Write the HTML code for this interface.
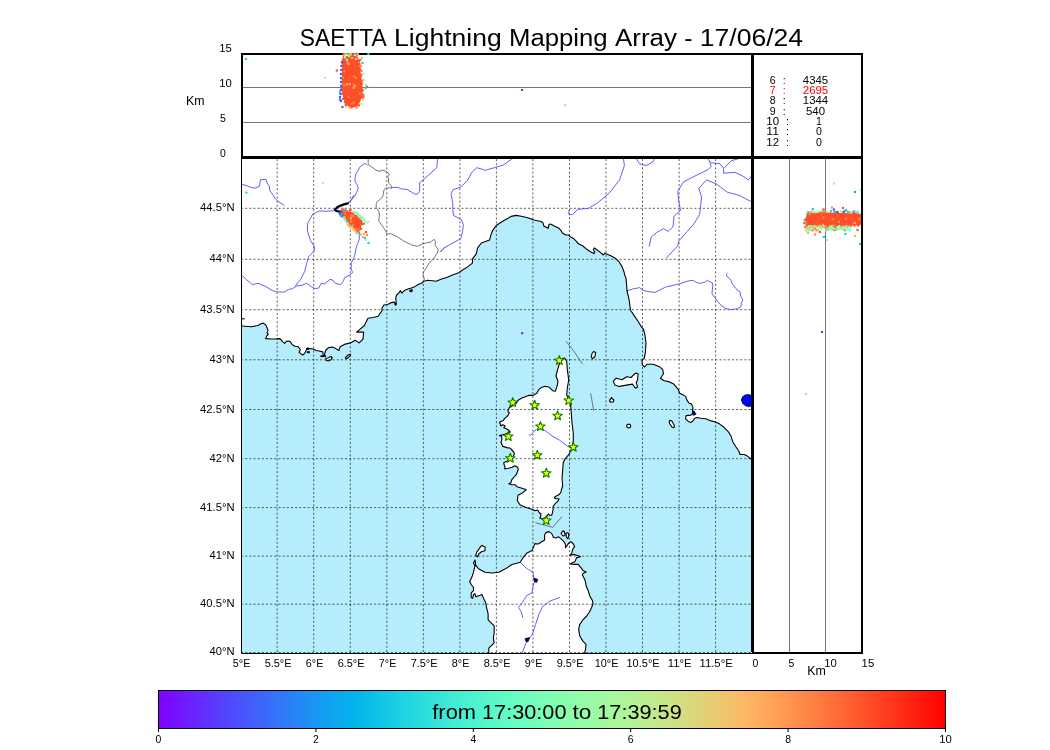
<!DOCTYPE html><html><head><meta charset="utf-8"><style>html,body{margin:0;padding:0;background:#fff;font-family:"Liberation Sans",sans-serif;}svg{display:block;will-change:transform}</style></head><body><svg width="1050" height="750" viewBox="0 0 1050 750" font-family="'Liberation Sans', sans-serif">
<rect width="1050" height="750" fill="#fff"/>
<defs><clipPath id="mc"><rect x="241" y="157" width="511" height="496"/></clipPath>
<linearGradient id="cb" x1="0" x2="1" y1="0" y2="0"><stop offset="0.000" stop-color="rgb(128,0,255)"/><stop offset="0.025" stop-color="rgb(115,20,255)"/><stop offset="0.050" stop-color="rgb(102,40,254)"/><stop offset="0.075" stop-color="rgb(89,60,253)"/><stop offset="0.100" stop-color="rgb(76,79,252)"/><stop offset="0.125" stop-color="rgb(64,98,250)"/><stop offset="0.150" stop-color="rgb(51,116,248)"/><stop offset="0.175" stop-color="rgb(38,133,245)"/><stop offset="0.200" stop-color="rgb(25,150,243)"/><stop offset="0.225" stop-color="rgb(13,166,239)"/><stop offset="0.250" stop-color="rgb(0,180,236)"/><stop offset="0.275" stop-color="rgb(13,194,232)"/><stop offset="0.300" stop-color="rgb(25,206,227)"/><stop offset="0.325" stop-color="rgb(38,217,222)"/><stop offset="0.350" stop-color="rgb(51,227,217)"/><stop offset="0.375" stop-color="rgb(64,236,212)"/><stop offset="0.400" stop-color="rgb(77,243,206)"/><stop offset="0.425" stop-color="rgb(89,248,200)"/><stop offset="0.450" stop-color="rgb(102,252,194)"/><stop offset="0.475" stop-color="rgb(115,254,187)"/><stop offset="0.500" stop-color="rgb(128,255,180)"/><stop offset="0.525" stop-color="rgb(140,254,173)"/><stop offset="0.550" stop-color="rgb(153,252,166)"/><stop offset="0.575" stop-color="rgb(166,248,158)"/><stop offset="0.600" stop-color="rgb(178,243,150)"/><stop offset="0.625" stop-color="rgb(191,236,142)"/><stop offset="0.650" stop-color="rgb(204,227,133)"/><stop offset="0.675" stop-color="rgb(217,217,125)"/><stop offset="0.700" stop-color="rgb(229,206,116)"/><stop offset="0.725" stop-color="rgb(242,194,107)"/><stop offset="0.750" stop-color="rgb(255,180,98)"/><stop offset="0.775" stop-color="rgb(255,166,88)"/><stop offset="0.800" stop-color="rgb(255,150,79)"/><stop offset="0.825" stop-color="rgb(255,133,69)"/><stop offset="0.850" stop-color="rgb(255,116,60)"/><stop offset="0.875" stop-color="rgb(255,98,50)"/><stop offset="0.900" stop-color="rgb(255,79,40)"/><stop offset="0.925" stop-color="rgb(255,60,30)"/><stop offset="0.950" stop-color="rgb(255,40,20)"/><stop offset="0.975" stop-color="rgb(255,20,10)"/><stop offset="1.000" stop-color="rgb(255,0,0)"/></linearGradient>
</defs>
<g clip-path="url(#mc)">
<rect x="241" y="157" width="511" height="496" fill="#b5edfc"/>
<path d="M241.0,322.0 L242.0,326.0 L251.3,326.7 L258.0,325.5 L260.9,323.8 L263.2,323.1 L265.6,324.8 L267.0,327.6 L268.0,330.5 L267.0,332.9 L268.3,334.3 L266.6,336.2 L265.6,338.6 L271.3,339.0 L277.0,338.9 L279.9,338.6 L282.8,341.9 L284.7,343.3 L286.6,341.0 L289.9,341.4 L292.3,344.8 L295.1,346.2 L298.0,346.7 L300.4,349.5 L299.0,352.4 L302.8,355.0 L304.7,353.3 L306.6,349.5 L308.5,348.6 L313.2,349.0 L316.1,350.5 L319.0,351.0 L322.8,351.9 L323.2,355.6 L324.2,355.6 L325.6,350.5 L328.5,347.6 L332.3,347.1 L335.1,348.3 L338.9,350.5 L340.1,346.7 L345.2,344.1 L350.3,342.9 L355.3,340.3 L359.2,342.9 L363.0,339.1 L363.6,332.1 L356.6,332.1 L360.4,328.9 L364.2,325.8 L368.0,318.2 L373.1,317.5 L378.2,316.3 L382.0,310.6 L381.9,308.3 L383.8,305.0 L387.6,304.5 L391.4,302.6 L394.3,302.1 L395.2,304.5 L396.2,303.1 L395.7,297.9 L396.7,295.0 L398.6,293.1 L400.5,290.7 L401.9,293.1 L404.8,290.2 L408.6,288.8 L411.4,287.9 L415.2,286.4 L418.1,284.5 L421.9,283.1 L423.8,281.2 L427.6,280.2 L432.4,280.7 L436.2,281.2 L441.0,279.3 L446.7,277.4 L452.4,275.0 L458.1,273.1 L462.9,269.8 L467.6,266.9 L472.4,263.1 L472.5,258.9 L476.3,253.8 L477.5,248.1 L481.3,243.0 L489.6,239.9 L490.8,235.4 L492.7,230.3 L496.5,225.3 L503.5,220.8 L511.1,216.4 L516.2,215.4 L521.3,216.2 L527.6,217.7 L533.9,220.0 L540.0,221.2 L542.9,222.6 L543.8,226.0 L548.1,228.3 L549.0,224.5 L550.5,224.0 L554.3,226.0 L559.0,228.3 L561.4,231.2 L562.4,233.1 L565.7,235.0 L568.6,235.0 L570.5,236.9 L573.3,238.3 L576.7,241.7 L578.1,243.6 L580.0,244.5 L582.9,246.0 L586.7,249.3 L590.5,251.7 L593.8,253.6 L594.8,252.1 L593.3,249.8 L594.3,247.9 L596.2,249.3 L600.0,252.1 L603.3,255.0 L604.8,253.1 L606.7,254.0 L611.4,256.0 L615.2,258.3 L619.0,261.7 L621.9,266.4 L623.8,271.2 L624.8,275.0 L626.0,278.4 L626.6,284.7 L627.0,291.0 L628.4,296.4 L629.4,301.7 L630.5,310.3 L634.2,315.6 L638.5,322.0 L641.7,327.3 L643.3,328.9 L644.9,334.8 L646.0,343.3 L645.4,351.8 L644.3,358.2 L641.9,360.4 L642.4,364.8 L644.6,367.0 L647.2,364.2 L653.1,364.2 L659.0,366.4 L662.7,369.4 L663.5,373.8 L660.5,378.2 L663.5,380.5 L669.4,381.9 L673.8,384.1 L678.2,389.3 L679.7,393.2 L682.9,394.8 L685.6,396.4 L687.2,400.7 L689.3,403.3 L691.4,403.9 L693.0,407.6 L692.5,410.8 L693.6,412.4 L690.9,415.1 L686.1,415.6 L685.6,418.8 L688.3,421.4 L690.9,422.5 L693.0,420.9 L694.6,418.3 L697.3,417.5 L700.5,418.3 L705.8,418.8 L711.2,420.9 L715.4,422.0 L719.7,424.1 L724.0,427.3 L728.2,431.6 L730.9,435.8 L733.0,442.2 L735.7,446.5 L738.9,451.3 L740.0,454.5 L744.2,454.5 L747.4,456.1 L752.0,459.8 L753.0,459.8 L753.0,156.0 L240.0,156.0 L240.0,322.0 Z" fill="#fff"/>
<path d="M564.7,358.0 L566.7,361.3 L567.3,369.3 L568.7,380.0 L567.3,388.0 L566.7,394.7 L568.7,398.7 L570.7,405.3 L571.3,413.3 L572.0,422.7 L573.3,433.3 L573.3,440.7 L572.0,448.7 L568.7,454.7 L564.7,459.3 L563.1,463.3 L562.7,470.0 L562.0,478.0 L562.7,486.0 L561.3,490.0 L561.0,492.0 L559.7,494.0 L557.7,495.3 L555.0,496.7 L554.3,498.0 L556.3,498.7 L559.0,498.7 L558.3,500.7 L556.3,502.7 L554.3,504.7 L553.0,506.7 L553.0,510.0 L552.3,513.3 L551.7,515.3 L549.7,515.3 L548.3,514.0 L546.0,517.5 L542.3,518.7 L539.7,518.0 L540.7,516.7 L541.0,514.0 L539.3,512.7 L537.7,510.0 L535.0,510.7 L531.7,509.3 L527.7,508.0 L523.5,506.5 L520.0,504.7 L517.3,500.7 L518.0,495.3 L522.0,493.3 L526.3,489.7 L523.7,488.7 L520.3,487.7 L517.0,486.7 L515.0,484.7 L511.7,484.7 L508.7,483.7 L511.0,482.7 L511.3,481.3 L512.0,479.3 L513.3,478.0 L515.0,476.0 L516.3,474.7 L517.3,472.0 L518.3,469.3 L517.7,467.3 L514.7,465.7 L512.3,467.3 L508.3,468.3 L504.7,469.0 L505.0,466.7 L504.3,465.3 L503.7,462.7 L507.0,461.3 L510.0,459.0 L513.0,456.7 L514.3,454.3 L514.0,452.3 L511.8,450.0 L510.6,448.2 L507.0,447.6 L502.8,446.4 L501.9,444.6 L501.0,442.2 L501.9,439.8 L501.6,436.2 L499.5,435.6 L505.0,434.2 L510.3,432.0 L508.8,430.2 L506.4,428.7 L503.7,427.8 L505.2,426.0 L502.8,424.8 L500.7,426.0 L500.4,424.2 L499.5,422.4 L501.0,421.5 L503.4,420.6 L504.3,418.8 L505.8,417.6 L507.9,415.5 L509.4,412.8 L507.9,411.6 L508.5,409.2 L509.4,407.4 L512.4,405.9 L516.2,403.4 L518.2,400.2 L521.4,398.2 L524.6,397.0 L528.6,395.4 L533.4,395.4 L537.0,393.0 L538.6,389.8 L541.4,387.4 L545.0,386.2 L549.3,387.3 L552.7,390.7 L555.3,391.3 L557.3,385.3 L558.0,381.3 L556.0,376.0 L557.3,370.7 L559.3,364.0 L562.0,358.7 Z" fill="#fff"/>
<path d="M488.8,653.5 L488.8,650.4 L488.8,648.1 L491.1,645.8 L494.2,642.8 L493.4,638.2 L494.2,632.0 L494.2,625.9 L491.1,622.8 L488.1,619.8 L488.1,613.6 L486.5,607.5 L485.8,602.9 L483.5,598.3 L481.9,594.4 L480.4,595.2 L475.8,596.7 L475.0,593.7 L473.5,594.4 L472.7,598.3 L471.2,597.5 L471.2,592.9 L473.5,590.6 L473.5,587.5 L471.2,584.5 L469.7,581.4 L472.0,576.8 L473.5,572.2 L475.0,566.0 L473.5,563.0 L475.0,560.0 L475.8,565.3 L478.9,569.1 L485.0,572.2 L492.7,573.0 L498.8,572.2 L504.9,569.1 L512.0,564.5 L520.3,562.3 L523.0,557.8 L526.6,553.3 L532.0,550.6 L535.0,543.6 L538.2,544.0 L541.4,542.0 L544.6,540.0 L544.6,534.8 L546.2,532.4 L549.0,531.6 L551.8,533.6 L553.4,537.2 L555.8,538.0 L558.6,536.8 L561.4,539.2 L563.8,541.6 L565.4,544.0 L565.4,547.6 L567.0,545.6 L568.6,543.2 L571.0,541.6 L573.4,544.0 L574.6,546.4 L572.6,549.6 L571.8,552.8 L570.2,555.2 L574.2,554.4 L576.6,555.2 L580.6,556.8 L576.6,557.6 L575.0,561.6 L570.2,564.0 L575.0,564.4 L578.2,564.4 L579.8,566.4 L583.0,570.4 L586.2,572.0 L583.0,573.6 L582.4,575.0 L585.1,580.3 L586.1,585.7 L588.3,591.0 L589.9,596.3 L592.5,600.6 L593.0,603.8 L591.4,608.0 L589.3,612.3 L586.7,616.0 L582.9,619.8 L579.7,624.6 L578.7,629.4 L579.7,635.8 L582.9,641.1 L586.1,644.3 L585.6,648.6 L584.5,653.5 L585.0,654.0 L488.0,654.0 Z" fill="#fff"/>
<path d="M481.9,545.4 L485.0,546.9 L485.0,550.7 L481.9,551.5 L478.9,553.8 L477.3,556.9 L475.8,555.3 L476.6,552.3 L478.9,549.2 L480.4,546.9 Z" fill="#fff"/>
<path d="M613.3,381.2 L616.2,378.2 L622.1,379.7 L626.6,376.8 L631.0,377.5 L635.4,373.1 L638.1,373.8 L637.6,379.7 L636.2,382.7 L637.6,387.1 L635.4,388.3 L632.5,384.1 L628.0,384.9 L623.6,385.6 L619.2,386.4 L614.8,384.9 Z" fill="#fff"/>
<path d="M593.5,351.5 L595.6,352.5 L595.0,356.5 L592.5,358.8 L591.2,357.0 L592.0,353.5 Z" fill="#fff"/>
<path d="M610.0,399.5 L611.5,398.0 L611.6,397.3 L612.0,398.5 L613.8,399.8 L613.5,401.8 L611.0,402.3 L609.5,401.3 Z" fill="#fff"/>
<path d="M628.7,424.0 L630.6,425.0 L630.6,427.2 L628.7,428.0 L626.8,427.0 L626.8,425.0 Z" fill="#fff"/>
<path d="M670.0,420.3 L671.8,421.0 L674.4,425.5 L674.0,427.6 L672.3,427.3 L669.5,423.5 L669.3,421.2 Z" fill="#fff"/>
<path d="M325.8,358.5 L328.5,357.8 L331.0,356.5 L332.3,357.6 L331.0,359.8 L328.0,361.0 L326.0,360.2 Z" fill="#fff"/>
<path d="M345.5,357.6 L348.0,355.0 L350.6,354.2 L350.3,355.6 L347.8,358.0 L345.8,358.6 Z" fill="#fff"/>
<path d="M561.0,533.5 L563.0,530.8 L564.5,532.0 L565.0,535.5 L563.0,536.0 Z" fill="#fff"/>
<path d="M566.0,533.0 L568.2,532.8 L568.8,535.5 L567.8,538.8 L566.3,537.0 Z" fill="#fff"/>
<path d="M240.7,652 V157 M277.2,652 V157 M313.7,652 V157 M350.3,652 V157 M386.8,652 V157 M423.3,652 V157 M459.9,652 V157 M496.4,652 V157 M532.9,652 V157 M569.5,652 V157 M606.0,652 V157 M642.5,652 V157 M679.1,652 V157 M715.6,652 V157 M752.1,652 V157 M241,652.5 H752 M241,604.2 H752 M241,556.1 H752 M241,507.6 H752 M241,458.7 H752 M241,409.5 H752 M241,359.8 H752 M241,309.7 H752 M241,259.3 H752 M241,208.3 H752 M241,157.0 H752" stroke="#000" stroke-opacity="0.62" stroke-width="1" stroke-dasharray="2.08,2.08" fill="none"/>
<g fill="none" stroke="#4d4dff" stroke-width="0.9" stroke-linejoin="round">
<path d="M241.7,184.4 L246.0,185.4 L250.8,187.4 L254.8,188.2 L259.6,186.2 L260.4,179.8 L266.0,179.4 L266.8,182.6 L269.2,185.8 L269.6,190.2 L272.4,194.2 L275.6,199.0 L278.0,201.4 L284.4,205.4"/>
<path d="M367.0,165.4 L365.4,163.4 L363.0,164.6 L360.2,166.6 L358.2,170.2 L355.8,174.2 L355.0,178.0 L355.0,181.4 L357.4,185.4 L358.2,188.6 L356.6,192.6 L354.4,196.6 L351.0,200.5 L348.4,202.7"/>
<path d="M333.5,210.8 L325.0,211.3 L319.8,210.8 L312.8,214.0 L307.6,223.5 L307.3,230.0 L308.7,235.3 L310.7,240.7 L314.7,247.3 L314.0,251.3 L308.7,256.7 L306.7,263.3 L304.7,271.3 L300.7,279.3 L295.3,286.0"/>
<path d="M353.7,195.0 L350.3,201.7 L348.0,203.0"/>
<path d="M344.0,214.8 L352.0,224.0 L357.5,230.5 L359.3,234.5 L359.3,239.3 L356.4,246.9 L354.5,256.4 L351.2,263.1 L351.2,268.8 L352.6,272.6 L350.7,274.5 L346.9,276.4 L344.7,277.5 L343.3,281.3 L340.7,284.7 L335.3,283.3 L332.7,280.0 L330.0,279.3 L324.7,284.0 L321.3,283.3 L318.7,288.0 L315.3,288.7 L311.3,286.7 L306.7,283.3 L302.0,285.3 L296.7,286.0 L292.7,288.7 L288.7,289.3 L284.7,292.0 L278.0,292.0 L272.7,290.7 L264.7,286.0 L258.0,283.3 L252.7,284.7 L246.0,279.3 L242.0,275.3"/>
<path d="M391.8,187.4 L398.2,187.4 L401.4,189.0 L407.0,189.4 L411.0,191.8 L415.0,194.2 L417.4,194.2 L419.4,191.8 L419.8,187.0 L419.4,183.0 L421.4,181.4 L425.0,178.2 L428.9,174.7 L436.8,167.6 L437.7,158.0"/>
<path d="M513.1,158.0 L503.3,165.0 L494.5,167.6 L485.6,170.3 L476.7,167.6 L471.4,173.0 L467.9,180.0 L460.8,187.1 L452.8,189.8 L451.0,194.2 L452.8,203.1 L452.8,210.2 L453.7,215.5 L460.8,219.1 L463.4,224.4 L462.6,231.5 L460.8,238.6 L452.8,243.0 L444.8,247.4 L440.4,251.9"/>
<path d="M440.2,252.1 L445.0,246.9"/>
<path d="M568.9,210.2 L568.9,214.6 L572.5,214.6 L577.8,209.3 L588.4,208.4 L597.6,202.8 L609.1,193.3 L619.6,179.9 L624.4,165.6 L623.4,158.0"/>
<path d="M635.8,158.0 L639.6,163.7 L646.3,165.6 L653.0,161.8 L654.9,158.0"/>
<path d="M649.2,246.7 L651.1,237.2 L656.8,232.4 L663.5,228.6 L668.2,231.4 L673.0,226.7 L674.0,216.2 L680.6,210.4 L678.7,200.9 L677.8,191.4 L683.5,181.8 L696.9,175.1 L708.3,169.4 L711.2,166.5 L709.3,160.8 L707.4,158.0"/>
<path d="M666.3,258.1 L677.8,245.7 L678.7,241.0 L687.3,231.4 L694.0,223.8 L699.7,214.3 L701.6,197.1 L698.8,188.5 L706.4,179.9 L716.0,183.7 L727.4,192.3 L738.9,195.2 L751.5,201.8"/>
<path d="M710.2,162.7 L719.8,163.7 L723.6,168.5 L723.6,173.2 L735.0,172.3 L742.7,176.1 L748.4,179.9 L751.5,176.1"/>
<path d="M723.6,168.5 L731.2,160.8 L740.8,158.0"/>
<path d="M626.8,290.8 L633.9,288.7 L639.6,287.7 L643.4,290.6 L648.0,291.5 L654.9,292.5 L658.9,290.4 L666.3,286.8 L679.7,283.9 L686.0,281.5 L690.0,280.6 L693.7,280.6 L696.5,282.5 L700.3,283.4 L705.0,282.0 L707.3,280.4 L710.1,282.0 L712.4,283.0 L712.9,285.3 L712.4,289.0 L712.0,293.7 L715.2,297.9 L718.0,302.1 L721.8,305.8 L725.5,308.6 L731.1,309.6 L737.7,308.6 L740.9,306.8 L741.4,303.0 L742.8,300.2 L740.9,296.5 L740.0,291.8 L737.2,290.0 L734.9,287.1 L732.5,284.3 L731.1,280.6 L729.3,278.3 L726.9,276.4 L726.4,275.0 L727.4,273.4"/>
<path d="M528.9,434.1 L530.4,435.6 L532.2,433.5 L534.0,431.4 L536.4,429.6 L538.5,428.7 L543.3,429.3 L548.7,433.3 L552.0,436.0 L559.3,440.0 L567.3,446.0 L572.5,448.5"/>
<path d="M520.3,562.3 L524.8,566.8 L528.4,569.5 L532.9,572.2 L533.8,577.6 L535.0,580.0 L532.9,586.6 L532.0,592.9 L526.6,595.6 L522.1,602.8 L518.5,607.3 L521.2,611.8 L523.0,618.1"/>
<path d="M559.9,597.4 L550.0,601.0 L542.8,606.4 L539.2,613.6 L535.6,624.4 L532.0,635.2 L527.5,639.7 L524.8,646.0 L522.1,653.0"/>
</g>
<g fill="none" stroke="#555" stroke-width="0.8" stroke-linejoin="round">
<path d="M368.2,158.0 L368.2,164.6 L371.8,167.0 L376.2,170.2 L379.8,171.4 L382.2,170.0 L386.2,171.4 L389.4,174.2 L387.8,176.2 L388.6,179.0 L388.6,183.0 L391.0,185.4 L391.8,188.2 L388.6,187.8 L385.4,188.2 L383.8,190.2 L383.4,194.2 L382.6,196.6 L380.6,199.0 L377.4,201.4 L376.2,203.8 L376.2,208.2 L378.2,210.2 L379.6,214.0 L378.7,220.9 L381.7,225.0 L385.0,229.8 L386.9,234.0 L390.7,233.6 L397.4,236.9 L404.0,241.2 L411.7,245.0 L417.4,246.4 L423.1,243.6 L430.7,242.1 L434.0,239.3 L435.5,241.7 L435.0,245.0 L438.3,249.8 L436.9,253.6 L433.6,258.8 L428.8,263.1 L426.9,266.9 L423.6,271.7 L423.1,274.5 L424.5,279.8"/>
<path d="M566.0,341.2 L574.0,351.5 L582.5,364.1"/>
<path d="M590.7,393.3 L593.7,410.7"/>
<path d="M535.3,522.7 L552.7,527.3 L562.0,516.7"/>
</g>
<path d="M741.3,400.0 L742.5,396.8 L745.0,395.0 L748.0,394.6 L751.5,395.2 L751.5,406.0 L748.6,406.7 L745.0,405.6 L742.6,403.2 Z" fill="#0000ff" stroke="#000" stroke-width="0.7"/>
<path d="M692.6,411.6 L694.0,410.8 L695.0,412.6 L696.2,414.0 L694.0,415.3 L692.4,414.8 Z" fill="#0000ff" stroke="#000" stroke-width="0.7"/>
<path d="M533.6,578.0 L537.8,579.4 L536.6,582.4 L534.6,581.8 Z" fill="#00008b" stroke="#000" stroke-width="0.7"/>
<path d="M525.0,638.6 L529.8,637.6 L528.0,641.8 L526.0,641.6 Z" fill="#00008b" stroke="#000" stroke-width="0.7"/>
<path d="M347.8,203.4 C344,204.4 339.5,205.6 337,207.4 L334.8,209.9 C336.3,211.2 338.8,211.7 341.8,211.8" fill="none" stroke="#000" stroke-width="2.3" stroke-linecap="round" stroke-linejoin="round"/>
<path d="M336.2,209.2 L338.5,207.4" stroke="#0000ff" stroke-width="1" fill="none"/>
<g fill="none" stroke="#000" stroke-width="1.1" stroke-linejoin="round">
<path d="M241.0,322.0 L242.0,326.0 L251.3,326.7 L258.0,325.5 L260.9,323.8 L263.2,323.1 L265.6,324.8 L267.0,327.6 L268.0,330.5 L267.0,332.9 L268.3,334.3 L266.6,336.2 L265.6,338.6 L271.3,339.0 L277.0,338.9 L279.9,338.6 L282.8,341.9 L284.7,343.3 L286.6,341.0 L289.9,341.4 L292.3,344.8 L295.1,346.2 L298.0,346.7 L300.4,349.5 L299.0,352.4 L302.8,355.0 L304.7,353.3 L306.6,349.5 L308.5,348.6 L313.2,349.0 L316.1,350.5 L319.0,351.0 L322.8,351.9 L323.2,355.6 L324.2,355.6 L325.6,350.5 L328.5,347.6 L332.3,347.1 L335.1,348.3 L338.9,350.5 L340.1,346.7 L345.2,344.1 L350.3,342.9 L355.3,340.3 L359.2,342.9 L363.0,339.1 L363.6,332.1 L356.6,332.1 L360.4,328.9 L364.2,325.8 L368.0,318.2 L373.1,317.5 L378.2,316.3 L382.0,310.6 L381.9,308.3 L383.8,305.0 L387.6,304.5 L391.4,302.6 L394.3,302.1 L395.2,304.5 L396.2,303.1 L395.7,297.9 L396.7,295.0 L398.6,293.1 L400.5,290.7 L401.9,293.1 L404.8,290.2 L408.6,288.8 L411.4,287.9 L415.2,286.4 L418.1,284.5 L421.9,283.1 L423.8,281.2 L427.6,280.2 L432.4,280.7 L436.2,281.2 L441.0,279.3 L446.7,277.4 L452.4,275.0 L458.1,273.1 L462.9,269.8 L467.6,266.9 L472.4,263.1 L472.5,258.9 L476.3,253.8 L477.5,248.1 L481.3,243.0 L489.6,239.9 L490.8,235.4 L492.7,230.3 L496.5,225.3 L503.5,220.8 L511.1,216.4 L516.2,215.4 L521.3,216.2 L527.6,217.7 L533.9,220.0 L540.0,221.2 L542.9,222.6 L543.8,226.0 L548.1,228.3 L549.0,224.5 L550.5,224.0 L554.3,226.0 L559.0,228.3 L561.4,231.2 L562.4,233.1 L565.7,235.0 L568.6,235.0 L570.5,236.9 L573.3,238.3 L576.7,241.7 L578.1,243.6 L580.0,244.5 L582.9,246.0 L586.7,249.3 L590.5,251.7 L593.8,253.6 L594.8,252.1 L593.3,249.8 L594.3,247.9 L596.2,249.3 L600.0,252.1 L603.3,255.0 L604.8,253.1 L606.7,254.0 L611.4,256.0 L615.2,258.3 L619.0,261.7 L621.9,266.4 L623.8,271.2 L624.8,275.0 L626.0,278.4 L626.6,284.7 L627.0,291.0 L628.4,296.4 L629.4,301.7 L630.5,310.3 L634.2,315.6 L638.5,322.0 L641.7,327.3 L643.3,328.9 L644.9,334.8 L646.0,343.3 L645.4,351.8 L644.3,358.2 L641.9,360.4 L642.4,364.8 L644.6,367.0 L647.2,364.2 L653.1,364.2 L659.0,366.4 L662.7,369.4 L663.5,373.8 L660.5,378.2 L663.5,380.5 L669.4,381.9 L673.8,384.1 L678.2,389.3 L679.7,393.2 L682.9,394.8 L685.6,396.4 L687.2,400.7 L689.3,403.3 L691.4,403.9 L693.0,407.6 L692.5,410.8 L693.6,412.4 L690.9,415.1 L686.1,415.6 L685.6,418.8 L688.3,421.4 L690.9,422.5 L693.0,420.9 L694.6,418.3 L697.3,417.5 L700.5,418.3 L705.8,418.8 L711.2,420.9 L715.4,422.0 L719.7,424.1 L724.0,427.3 L728.2,431.6 L730.9,435.8 L733.0,442.2 L735.7,446.5 L738.9,451.3 L740.0,454.5 L744.2,454.5 L747.4,456.1 L752.0,459.8"/>
<path d="M564.7,358.0 L566.7,361.3 L567.3,369.3 L568.7,380.0 L567.3,388.0 L566.7,394.7 L568.7,398.7 L570.7,405.3 L571.3,413.3 L572.0,422.7 L573.3,433.3 L573.3,440.7 L572.0,448.7 L568.7,454.7 L564.7,459.3 L563.1,463.3 L562.7,470.0 L562.0,478.0 L562.7,486.0 L561.3,490.0 L561.0,492.0 L559.7,494.0 L557.7,495.3 L555.0,496.7 L554.3,498.0 L556.3,498.7 L559.0,498.7 L558.3,500.7 L556.3,502.7 L554.3,504.7 L553.0,506.7 L553.0,510.0 L552.3,513.3 L551.7,515.3 L549.7,515.3 L548.3,514.0 L546.0,517.5 L542.3,518.7 L539.7,518.0 L540.7,516.7 L541.0,514.0 L539.3,512.7 L537.7,510.0 L535.0,510.7 L531.7,509.3 L527.7,508.0 L523.5,506.5 L520.0,504.7 L517.3,500.7 L518.0,495.3 L522.0,493.3 L526.3,489.7 L523.7,488.7 L520.3,487.7 L517.0,486.7 L515.0,484.7 L511.7,484.7 L508.7,483.7 L511.0,482.7 L511.3,481.3 L512.0,479.3 L513.3,478.0 L515.0,476.0 L516.3,474.7 L517.3,472.0 L518.3,469.3 L517.7,467.3 L514.7,465.7 L512.3,467.3 L508.3,468.3 L504.7,469.0 L505.0,466.7 L504.3,465.3 L503.7,462.7 L507.0,461.3 L510.0,459.0 L513.0,456.7 L514.3,454.3 L514.0,452.3 L511.8,450.0 L510.6,448.2 L507.0,447.6 L502.8,446.4 L501.9,444.6 L501.0,442.2 L501.9,439.8 L501.6,436.2 L499.5,435.6 L505.0,434.2 L510.3,432.0 L508.8,430.2 L506.4,428.7 L503.7,427.8 L505.2,426.0 L502.8,424.8 L500.7,426.0 L500.4,424.2 L499.5,422.4 L501.0,421.5 L503.4,420.6 L504.3,418.8 L505.8,417.6 L507.9,415.5 L509.4,412.8 L507.9,411.6 L508.5,409.2 L509.4,407.4 L512.4,405.9 L516.2,403.4 L518.2,400.2 L521.4,398.2 L524.6,397.0 L528.6,395.4 L533.4,395.4 L537.0,393.0 L538.6,389.8 L541.4,387.4 L545.0,386.2 L549.3,387.3 L552.7,390.7 L555.3,391.3 L557.3,385.3 L558.0,381.3 L556.0,376.0 L557.3,370.7 L559.3,364.0 L562.0,358.7 Z"/>
<path d="M488.8,653.5 L488.8,650.4 L488.8,648.1 L491.1,645.8 L494.2,642.8 L493.4,638.2 L494.2,632.0 L494.2,625.9 L491.1,622.8 L488.1,619.8 L488.1,613.6 L486.5,607.5 L485.8,602.9 L483.5,598.3 L481.9,594.4 L480.4,595.2 L475.8,596.7 L475.0,593.7 L473.5,594.4 L472.7,598.3 L471.2,597.5 L471.2,592.9 L473.5,590.6 L473.5,587.5 L471.2,584.5 L469.7,581.4 L472.0,576.8 L473.5,572.2 L475.0,566.0 L473.5,563.0 L475.0,560.0 L475.8,565.3 L478.9,569.1 L485.0,572.2 L492.7,573.0 L498.8,572.2 L504.9,569.1 L512.0,564.5 L520.3,562.3 L523.0,557.8 L526.6,553.3 L532.0,550.6 L535.0,543.6 L538.2,544.0 L541.4,542.0 L544.6,540.0 L544.6,534.8 L546.2,532.4 L549.0,531.6 L551.8,533.6 L553.4,537.2 L555.8,538.0 L558.6,536.8 L561.4,539.2 L563.8,541.6 L565.4,544.0 L565.4,547.6 L567.0,545.6 L568.6,543.2 L571.0,541.6 L573.4,544.0 L574.6,546.4 L572.6,549.6 L571.8,552.8 L570.2,555.2 L574.2,554.4 L576.6,555.2 L580.6,556.8 L576.6,557.6 L575.0,561.6 L570.2,564.0 L575.0,564.4 L578.2,564.4 L579.8,566.4 L583.0,570.4 L586.2,572.0 L583.0,573.6 L582.4,575.0 L585.1,580.3 L586.1,585.7 L588.3,591.0 L589.9,596.3 L592.5,600.6 L593.0,603.8 L591.4,608.0 L589.3,612.3 L586.7,616.0 L582.9,619.8 L579.7,624.6 L578.7,629.4 L579.7,635.8 L582.9,641.1 L586.1,644.3 L585.6,648.6 L584.5,653.5"/>
<path d="M481.9,545.4 L485.0,546.9 L485.0,550.7 L481.9,551.5 L478.9,553.8 L477.3,556.9 L475.8,555.3 L476.6,552.3 L478.9,549.2 L480.4,546.9 Z"/>
<path d="M613.3,381.2 L616.2,378.2 L622.1,379.7 L626.6,376.8 L631.0,377.5 L635.4,373.1 L638.1,373.8 L637.6,379.7 L636.2,382.7 L637.6,387.1 L635.4,388.3 L632.5,384.1 L628.0,384.9 L623.6,385.6 L619.2,386.4 L614.8,384.9 Z"/>
<path d="M593.5,351.5 L595.6,352.5 L595.0,356.5 L592.5,358.8 L591.2,357.0 L592.0,353.5 Z"/>
<path d="M610.0,399.5 L611.5,398.0 L611.6,397.3 L612.0,398.5 L613.8,399.8 L613.5,401.8 L611.0,402.3 L609.5,401.3 Z"/>
<path d="M628.7,424.0 L630.6,425.0 L630.6,427.2 L628.7,428.0 L626.8,427.0 L626.8,425.0 Z"/>
<path d="M670.0,420.3 L671.8,421.0 L674.4,425.5 L674.0,427.6 L672.3,427.3 L669.5,423.5 L669.3,421.2 Z"/>
<path d="M325.8,358.5 L328.5,357.8 L331.0,356.5 L332.3,357.6 L331.0,359.8 L328.0,361.0 L326.0,360.2 Z"/>
<path d="M345.5,357.6 L348.0,355.0 L350.6,354.2 L350.3,355.6 L347.8,358.0 L345.8,358.6 Z"/>
<path d="M561.0,533.5 L563.0,530.8 L564.5,532.0 L565.0,535.5 L563.0,536.0 Z"/>
<path d="M566.0,533.0 L568.2,532.8 L568.8,535.5 L567.8,538.8 L566.3,537.0 Z"/>
<path d="M241.5,318.8 H244.7"/>
<path d="M320.4,356.2 H326" stroke-width="1.8"/>
<path d="M409.5,290.2 L412.4,289.6 L412.2,291.6 L410.0,291.8 Z M395.2,303.0 L396.4,303.2 L396.2,305.2 L395.0,305.0 Z" fill="#000" stroke-width="0.8"/>
<path d="M306.3,348.2 L308.5,347.8 L308.6,349.4 L306.8,349.6 Z M307,351.8 L309.5,351.6 L309.4,352.9 L307.3,352.8 Z" fill="#000" stroke-width="0.8"/>
</g>
</g>
<path d="M242,87.5 H752 M242,122.5 H752" stroke="#777" stroke-width="1"/>
<path d="M789.5,158 V652 M825.5,158 V652" stroke="#777" stroke-width="1"/>
<path d="M343.0,57.0 L346.0,56.0 L356.0,56.0 L358.0,57.0 L359.0,62.0 L360.0,68.0 L361.0,75.0 L362.0,82.0 L362.5,90.0 L362.0,97.0 L360.0,102.0 L358.0,106.0 L353.0,107.5 L348.0,106.5 L345.0,103.0 L343.0,97.0 L342.0,90.0 L342.0,80.0 L342.0,70.0 L342.5,62.0 Z" fill="rgb(255,79,40)"/>
<path d="M342.3,212.7 L345.0,211.0 L353.0,212.3 L357.0,215.0 L362.3,221.0 L363.0,223.7 L361.0,226.3 L361.0,229.7 L358.3,231.7 L354.3,229.0 L350.3,225.7 L347.0,221.7 L344.3,217.7 L342.0,215.0 Z" fill="rgb(255,79,40)"/>
<path d="M805.3,219.5 L806.3,216.0 L808.5,214.0 L813.0,213.0 L820.0,212.6 L835.0,212.8 L850.0,213.2 L861.0,213.8 L861.0,224.5 L855.0,225.2 L848.0,225.8 L835.0,226.6 L820.0,227.2 L811.0,227.3 L807.2,226.0 L805.5,223.5 Z" fill="rgb(255,79,40)"/>
<path d="M559.3,355.6 L560.5,358.8 L564.0,359.0 L561.3,361.1 L562.2,364.5 L559.3,362.6 L556.4,364.5 L557.3,361.1 L554.6,359.0 L558.1,358.8 Z" fill="#ffff00" stroke="#008000" stroke-width="1.1" stroke-linejoin="round"/>
<path d="M512.7,397.6 L513.9,400.8 L517.4,401.0 L514.7,403.1 L515.6,406.5 L512.7,404.6 L509.8,406.5 L510.7,403.1 L508.0,401.0 L511.5,400.8 Z" fill="#ffff00" stroke="#008000" stroke-width="1.1" stroke-linejoin="round"/>
<path d="M534.7,400.3 L535.9,403.5 L539.4,403.7 L536.7,405.8 L537.6,409.2 L534.7,407.3 L531.8,409.2 L532.7,405.8 L530.0,403.7 L533.5,403.5 Z" fill="#ffff00" stroke="#008000" stroke-width="1.1" stroke-linejoin="round"/>
<path d="M568.7,395.6 L569.9,398.8 L573.4,399.0 L570.7,401.1 L571.6,404.5 L568.7,402.6 L565.8,404.5 L566.7,401.1 L564.0,399.0 L567.5,398.8 Z" fill="#ffff00" stroke="#008000" stroke-width="1.1" stroke-linejoin="round"/>
<path d="M557.6,410.9 L558.8,414.1 L562.3,414.3 L559.6,416.4 L560.5,419.8 L557.6,417.9 L554.7,419.8 L555.6,416.4 L552.9,414.3 L556.4,414.1 Z" fill="#ffff00" stroke="#008000" stroke-width="1.1" stroke-linejoin="round"/>
<path d="M540.4,421.6 L541.6,424.8 L545.1,425.0 L542.4,427.1 L543.3,430.5 L540.4,428.6 L537.5,430.5 L538.4,427.1 L535.7,425.0 L539.2,424.8 Z" fill="#ffff00" stroke="#008000" stroke-width="1.1" stroke-linejoin="round"/>
<path d="M508.3,431.6 L509.5,434.8 L513.0,435.0 L510.3,437.1 L511.2,440.5 L508.3,438.6 L505.4,440.5 L506.3,437.1 L503.6,435.0 L507.1,434.8 Z" fill="#ffff00" stroke="#008000" stroke-width="1.1" stroke-linejoin="round"/>
<path d="M573.3,442.3 L574.5,445.5 L578.0,445.7 L575.3,447.8 L576.2,451.2 L573.3,449.3 L570.4,451.2 L571.3,447.8 L568.6,445.7 L572.1,445.5 Z" fill="#ffff00" stroke="#008000" stroke-width="1.1" stroke-linejoin="round"/>
<path d="M510.3,453.3 L511.5,456.5 L515.0,456.7 L512.3,458.8 L513.2,462.2 L510.3,460.3 L507.4,462.2 L508.3,458.8 L505.6,456.7 L509.1,456.5 Z" fill="#ffff00" stroke="#008000" stroke-width="1.1" stroke-linejoin="round"/>
<path d="M537.3,450.3 L538.5,453.5 L542.0,453.7 L539.3,455.8 L540.2,459.2 L537.3,457.3 L534.4,459.2 L535.3,455.8 L532.6,453.7 L536.1,453.5 Z" fill="#ffff00" stroke="#008000" stroke-width="1.1" stroke-linejoin="round"/>
<path d="M546.3,468.3 L547.5,471.5 L551.0,471.7 L548.3,473.8 L549.2,477.2 L546.3,475.3 L543.4,477.2 L544.3,473.8 L541.6,471.7 L545.1,471.5 Z" fill="#ffff00" stroke="#008000" stroke-width="1.1" stroke-linejoin="round"/>
<path d="M546.3,515.6 L547.5,518.8 L551.0,519.0 L548.3,521.1 L549.2,524.5 L546.3,522.6 L543.4,524.5 L544.3,521.1 L541.6,519.0 L545.1,518.8 Z" fill="#ffff00" stroke="#008000" stroke-width="1.1" stroke-linejoin="round"/>
<rect x="347.5" y="62.7" width="2.2" height="2.2" fill="rgb(255,175,94)"/><rect x="342.4" y="82.5" width="2.2" height="2.2" fill="rgb(255,137,71)"/><rect x="352.8" y="101.7" width="2.2" height="2.2" fill="rgb(255,137,71)"/><rect x="341.7" y="77.2" width="2.2" height="2.2" fill="rgb(255,175,94)"/><rect x="345.8" y="83.3" width="2.2" height="2.2" fill="rgb(255,175,94)"/><rect x="357.9" y="61.3" width="2.2" height="2.2" fill="rgb(255,137,71)"/><rect x="353.8" y="84.9" width="2.2" height="2.2" fill="rgb(255,175,94)"/><rect x="352.7" y="75.3" width="2.2" height="2.2" fill="rgb(255,137,71)"/><rect x="346.8" y="62.3" width="2.2" height="2.2" fill="rgb(255,175,94)"/><rect x="352.6" y="83.8" width="2.2" height="2.2" fill="rgb(255,137,71)"/><rect x="343.0" y="84.3" width="2.2" height="2.2" fill="rgb(255,137,71)"/><rect x="348.5" y="83.1" width="2.2" height="2.2" fill="rgb(255,175,94)"/><rect x="352.5" y="86.8" width="2.2" height="2.2" fill="rgb(255,175,94)"/><rect x="354.8" y="76.9" width="2.2" height="2.2" fill="rgb(255,137,71)"/><rect x="350.4" y="102.5" width="2.2" height="2.2" fill="rgb(255,137,71)"/><rect x="347.0" y="95.8" width="2.2" height="2.2" fill="rgb(255,137,71)"/><rect x="342.6" y="70.4" width="2.2" height="2.2" fill="rgb(255,175,94)"/><rect x="358.8" y="92.5" width="2.2" height="2.2" fill="rgb(255,137,71)"/><rect x="342.7" y="55.4" width="2.0" height="2.0" fill="rgb(255,79,40)"/><rect x="346.2" y="56.1" width="2.0" height="2.0" fill="rgb(255,79,40)"/><rect x="350.4" y="54.0" width="2.0" height="2.0" fill="rgb(255,79,40)"/><rect x="351.3" y="55.8" width="2.0" height="2.0" fill="rgb(255,79,40)"/><rect x="348.0" y="55.0" width="2.0" height="2.0" fill="rgb(255,79,40)"/><rect x="351.8" y="54.0" width="2.0" height="2.0" fill="rgb(255,79,40)"/><rect x="356.1" y="54.1" width="2.0" height="2.0" fill="rgb(255,79,40)"/><rect x="357.2" y="59.9" width="2.0" height="2.0" fill="rgb(255,79,40)"/><rect x="357.5" y="60.0" width="2.0" height="2.0" fill="rgb(255,79,40)"/><rect x="358.5" y="67.5" width="2.0" height="2.0" fill="rgb(255,79,40)"/><rect x="358.6" y="63.1" width="2.0" height="2.0" fill="rgb(255,79,40)"/><rect x="357.7" y="62.9" width="2.0" height="2.0" fill="rgb(255,79,40)"/><rect x="360.5" y="69.8" width="2.0" height="2.0" fill="rgb(255,79,40)"/><rect x="358.9" y="67.6" width="2.0" height="2.0" fill="rgb(255,79,40)"/><rect x="359.0" y="68.1" width="2.0" height="2.0" fill="rgb(255,79,40)"/><rect x="362.0" y="79.4" width="2.0" height="2.0" fill="rgb(255,79,40)"/><rect x="359.7" y="75.6" width="2.0" height="2.0" fill="rgb(255,79,40)"/><rect x="360.6" y="73.8" width="2.0" height="2.0" fill="rgb(255,79,40)"/><rect x="360.6" y="87.1" width="2.0" height="2.0" fill="rgb(255,79,40)"/><rect x="361.2" y="82.5" width="2.0" height="2.0" fill="rgb(255,79,40)"/><rect x="360.2" y="84.5" width="2.0" height="2.0" fill="rgb(255,79,40)"/><rect x="361.9" y="89.2" width="2.0" height="2.0" fill="rgb(255,79,40)"/><rect x="362.2" y="93.4" width="2.0" height="2.0" fill="rgb(255,79,40)"/><rect x="361.3" y="93.5" width="2.0" height="2.0" fill="rgb(255,79,40)"/><rect x="361.3" y="91.5" width="2.0" height="2.0" fill="rgb(255,79,40)"/><rect x="361.9" y="96.8" width="2.0" height="2.0" fill="rgb(255,79,40)"/><rect x="361.0" y="95.5" width="2.0" height="2.0" fill="rgb(255,79,40)"/><rect x="358.0" y="104.4" width="2.0" height="2.0" fill="rgb(255,79,40)"/><rect x="356.7" y="102.7" width="2.0" height="2.0" fill="rgb(255,79,40)"/><rect x="355.5" y="106.7" width="2.0" height="2.0" fill="rgb(255,79,40)"/><rect x="353.9" y="104.9" width="2.0" height="2.0" fill="rgb(255,79,40)"/><rect x="350.8" y="106.0" width="2.0" height="2.0" fill="rgb(255,79,40)"/><rect x="349.5" y="106.8" width="2.0" height="2.0" fill="rgb(255,79,40)"/><rect x="344.7" y="103.4" width="2.0" height="2.0" fill="rgb(255,79,40)"/><rect x="344.7" y="104.9" width="2.0" height="2.0" fill="rgb(255,79,40)"/><rect x="343.8" y="100.9" width="2.0" height="2.0" fill="rgb(255,79,40)"/><rect x="342.0" y="97.8" width="2.0" height="2.0" fill="rgb(255,79,40)"/><rect x="344.7" y="101.5" width="2.0" height="2.0" fill="rgb(255,79,40)"/><rect x="340.7" y="88.9" width="2.0" height="2.0" fill="rgb(255,79,40)"/><rect x="341.5" y="92.6" width="2.0" height="2.0" fill="rgb(255,79,40)"/><rect x="342.1" y="92.4" width="2.0" height="2.0" fill="rgb(255,79,40)"/><rect x="340.3" y="86.8" width="2.0" height="2.0" fill="rgb(255,79,40)"/><rect x="340.2" y="80.9" width="2.0" height="2.0" fill="rgb(255,79,40)"/><rect x="342.3" y="82.4" width="2.0" height="2.0" fill="rgb(255,79,40)"/><rect x="340.2" y="84.6" width="2.0" height="2.0" fill="rgb(255,79,40)"/><rect x="341.8" y="86.1" width="2.0" height="2.0" fill="rgb(255,79,40)"/><rect x="342.2" y="74.4" width="2.0" height="2.0" fill="rgb(255,79,40)"/><rect x="340.9" y="77.6" width="2.0" height="2.0" fill="rgb(255,79,40)"/><rect x="342.3" y="74.5" width="2.0" height="2.0" fill="rgb(255,79,40)"/><rect x="342.1" y="78.6" width="2.0" height="2.0" fill="rgb(255,79,40)"/><rect x="341.9" y="71.6" width="2.0" height="2.0" fill="rgb(255,79,40)"/><rect x="341.7" y="65.1" width="2.0" height="2.0" fill="rgb(255,79,40)"/><rect x="341.3" y="62.2" width="2.0" height="2.0" fill="rgb(255,79,40)"/><rect x="342.2" y="68.9" width="2.0" height="2.0" fill="rgb(255,79,40)"/><rect x="341.9" y="64.2" width="2.0" height="2.0" fill="rgb(255,79,40)"/><rect x="342.9" y="59.0" width="2.0" height="2.0" fill="rgb(255,79,40)"/><rect x="341.7" y="58.5" width="2.0" height="2.0" fill="rgb(255,79,40)"/><rect x="340.9" y="60.9" width="2.2" height="2.2" fill="rgb(66,94,250)"/><rect x="340.4" y="64.9" width="2.2" height="2.2" fill="rgb(66,94,250)"/><rect x="340.2" y="68.9" width="2.2" height="2.2" fill="rgb(66,94,250)"/><rect x="339.9" y="72.9" width="2.2" height="2.2" fill="rgb(66,94,250)"/><rect x="339.9" y="76.9" width="2.2" height="2.2" fill="rgb(66,94,250)"/><rect x="339.9" y="80.9" width="2.2" height="2.2" fill="rgb(66,94,250)"/><rect x="340.4" y="84.9" width="2.2" height="2.2" fill="rgb(66,94,250)"/><rect x="339.9" y="88.9" width="2.2" height="2.2" fill="rgb(66,94,250)"/><rect x="339.4" y="92.9" width="2.2" height="2.2" fill="rgb(66,94,250)"/><rect x="338.9" y="95.9" width="2.2" height="2.2" fill="rgb(66,94,250)"/><rect x="338.9" y="98.4" width="2.2" height="2.2" fill="rgb(66,94,250)"/><rect x="339.9" y="99.9" width="2.2" height="2.2" fill="rgb(66,94,250)"/><rect x="342.9" y="52.9" width="2.2" height="2.2" fill="rgb(255,175,94)"/><rect x="345.9" y="52.9" width="2.2" height="2.2" fill="rgb(153,252,166)"/><rect x="349.9" y="53.4" width="2.2" height="2.2" fill="rgb(255,175,94)"/><rect x="352.9" y="52.9" width="2.2" height="2.2" fill="rgb(128,255,180)"/><rect x="355.9" y="52.9" width="2.2" height="2.2" fill="rgb(255,79,40)"/><rect x="347.9" y="54.9" width="2.2" height="2.2" fill="rgb(153,252,166)"/><rect x="343.9" y="56.4" width="2.2" height="2.2" fill="rgb(255,175,94)"/><rect x="362.9" y="78.9" width="2.2" height="2.2" fill="rgb(153,252,166)"/><rect x="364.9" y="83.9" width="2.2" height="2.2" fill="rgb(128,255,180)"/><rect x="362.4" y="91.9" width="2.2" height="2.2" fill="rgb(153,252,166)"/><rect x="361.9" y="98.9" width="2.2" height="2.2" fill="rgb(128,255,180)"/><rect x="359.9" y="102.9" width="2.2" height="2.2" fill="rgb(153,252,166)"/><rect x="355.9" y="105.9" width="2.2" height="2.2" fill="rgb(255,175,94)"/><rect x="348.9" y="106.9" width="2.2" height="2.2" fill="rgb(255,175,94)"/><rect x="344.9" y="105.9" width="2.2" height="2.2" fill="rgb(153,252,166)"/><rect x="335.7" y="69.4" width="2.2" height="2.2" fill="rgb(255,79,40)"/><rect x="360.9" y="56.9" width="2.2" height="2.2" fill="rgb(255,175,94)"/><rect x="361.4" y="61.9" width="2.2" height="2.2" fill="rgb(25,206,227)"/><rect x="365.9" y="85.9" width="2.2" height="2.2" fill="rgb(255,79,40)"/><rect x="362.9" y="94.9" width="2.2" height="2.2" fill="rgb(255,137,71)"/><rect x="364.4" y="86.9" width="2.2" height="2.2" fill="rgb(25,206,227)"/><rect x="358.9" y="58.9" width="2.2" height="2.2" fill="rgb(255,79,40)"/><rect x="359.9" y="64.9" width="2.2" height="2.2" fill="rgb(255,137,71)"/><rect x="361.9" y="72.9" width="2.2" height="2.2" fill="rgb(128,255,180)"/><rect x="338.9" y="90.9" width="2.2" height="2.2" fill="rgb(25,206,227)"/><rect x="341.4" y="105.9" width="2.2" height="2.2" fill="rgb(66,94,250)"/><rect x="351.7" y="224.2" width="2.2" height="2.2" fill="rgb(255,137,71)"/><rect x="351.6" y="215.0" width="2.2" height="2.2" fill="rgb(255,137,71)"/><rect x="343.8" y="212.4" width="2.2" height="2.2" fill="rgb(255,137,71)"/><rect x="349.9" y="214.3" width="2.2" height="2.2" fill="rgb(255,137,71)"/><rect x="357.4" y="228.5" width="2.2" height="2.2" fill="rgb(255,175,94)"/><rect x="360.6" y="223.2" width="2.2" height="2.2" fill="rgb(255,137,71)"/><rect x="350.0" y="220.6" width="2.2" height="2.2" fill="rgb(255,137,71)"/><rect x="349.7" y="217.3" width="2.2" height="2.2" fill="rgb(255,175,94)"/><rect x="342.0" y="210.6" width="2.0" height="2.0" fill="rgb(255,79,40)"/><rect x="346.3" y="210.1" width="2.0" height="2.0" fill="rgb(255,79,40)"/><rect x="349.0" y="209.7" width="2.0" height="2.0" fill="rgb(255,79,40)"/><rect x="352.6" y="212.5" width="2.0" height="2.0" fill="rgb(255,79,40)"/><rect x="344.2" y="208.9" width="2.0" height="2.0" fill="rgb(255,79,40)"/><rect x="354.5" y="212.4" width="2.0" height="2.0" fill="rgb(255,79,40)"/><rect x="354.8" y="213.3" width="2.0" height="2.0" fill="rgb(255,79,40)"/><rect x="356.5" y="216.6" width="2.0" height="2.0" fill="rgb(255,79,40)"/><rect x="359.5" y="216.4" width="2.0" height="2.0" fill="rgb(255,79,40)"/><rect x="356.8" y="214.2" width="2.0" height="2.0" fill="rgb(255,79,40)"/><rect x="357.5" y="214.8" width="2.0" height="2.0" fill="rgb(255,79,40)"/><rect x="360.8" y="223.1" width="2.0" height="2.0" fill="rgb(255,79,40)"/><rect x="362.8" y="222.8" width="2.0" height="2.0" fill="rgb(255,79,40)"/><rect x="360.1" y="227.6" width="2.0" height="2.0" fill="rgb(255,79,40)"/><rect x="358.3" y="229.3" width="2.0" height="2.0" fill="rgb(255,79,40)"/><rect x="355.3" y="229.2" width="2.0" height="2.0" fill="rgb(255,79,40)"/><rect x="356.3" y="230.1" width="2.0" height="2.0" fill="rgb(255,79,40)"/><rect x="352.8" y="226.4" width="2.0" height="2.0" fill="rgb(255,79,40)"/><rect x="350.5" y="226.0" width="2.0" height="2.0" fill="rgb(255,79,40)"/><rect x="348.6" y="223.4" width="2.0" height="2.0" fill="rgb(255,79,40)"/><rect x="347.0" y="221.0" width="2.0" height="2.0" fill="rgb(255,79,40)"/><rect x="345.8" y="217.8" width="2.0" height="2.0" fill="rgb(255,79,40)"/><rect x="343.6" y="217.4" width="2.0" height="2.0" fill="rgb(255,79,40)"/><rect x="341.1" y="214.5" width="2.0" height="2.0" fill="rgb(255,79,40)"/><rect x="342.5" y="212.0" width="2.0" height="2.0" fill="rgb(255,79,40)"/><rect x="352.9" y="210.6" width="2.2" height="2.2" fill="rgb(153,252,166)"/><rect x="353.7" y="212.1" width="2.2" height="2.2" fill="rgb(153,252,166)"/><rect x="354.6" y="212.7" width="2.2" height="2.2" fill="rgb(128,255,180)"/><rect x="355.4" y="212.7" width="2.2" height="2.2" fill="rgb(128,255,180)"/><rect x="356.3" y="212.4" width="2.2" height="2.2" fill="rgb(153,252,166)"/><rect x="357.1" y="214.4" width="2.2" height="2.2" fill="rgb(153,252,166)"/><rect x="358.0" y="215.3" width="2.2" height="2.2" fill="rgb(128,255,180)"/><rect x="358.8" y="215.4" width="2.2" height="2.2" fill="rgb(128,255,180)"/><rect x="359.7" y="216.9" width="2.2" height="2.2" fill="rgb(128,255,180)"/><rect x="360.5" y="216.0" width="2.2" height="2.2" fill="rgb(128,255,180)"/><rect x="361.4" y="217.3" width="2.2" height="2.2" fill="rgb(128,255,180)"/><rect x="362.2" y="219.0" width="2.2" height="2.2" fill="rgb(153,252,166)"/><rect x="363.1" y="218.7" width="2.2" height="2.2" fill="rgb(153,252,166)"/><rect x="363.9" y="220.6" width="2.2" height="2.2" fill="rgb(128,255,180)"/><rect x="339.9" y="213.7" width="2.2" height="2.2" fill="rgb(25,206,227)"/><rect x="340.7" y="214.7" width="2.2" height="2.2" fill="rgb(66,94,250)"/><rect x="341.5" y="215.1" width="2.2" height="2.2" fill="rgb(66,94,250)"/><rect x="342.2" y="215.7" width="2.2" height="2.2" fill="rgb(66,94,250)"/><rect x="343.0" y="216.2" width="2.2" height="2.2" fill="rgb(128,255,180)"/><rect x="343.8" y="217.9" width="2.2" height="2.2" fill="rgb(255,175,94)"/><rect x="344.6" y="219.6" width="2.2" height="2.2" fill="rgb(128,255,180)"/><rect x="345.3" y="220.1" width="2.2" height="2.2" fill="rgb(128,255,180)"/><rect x="346.1" y="220.2" width="2.2" height="2.2" fill="rgb(25,206,227)"/><rect x="346.9" y="222.1" width="2.2" height="2.2" fill="rgb(255,175,94)"/><rect x="346.4" y="223.0" width="2.2" height="2.2" fill="rgb(128,255,180)"/><rect x="347.4" y="224.2" width="2.2" height="2.2" fill="rgb(255,175,94)"/><rect x="348.4" y="224.8" width="2.2" height="2.2" fill="rgb(255,175,94)"/><rect x="349.4" y="226.3" width="2.2" height="2.2" fill="rgb(255,175,94)"/><rect x="350.4" y="226.0" width="2.2" height="2.2" fill="rgb(128,255,180)"/><rect x="351.4" y="226.4" width="2.2" height="2.2" fill="rgb(255,175,94)"/><rect x="352.4" y="228.2" width="2.2" height="2.2" fill="rgb(255,175,94)"/><rect x="353.4" y="228.2" width="2.2" height="2.2" fill="rgb(255,175,94)"/><rect x="354.4" y="229.9" width="2.2" height="2.2" fill="rgb(255,175,94)"/><rect x="355.4" y="231.8" width="2.2" height="2.2" fill="rgb(255,175,94)"/><rect x="341.4" y="207.7" width="2.2" height="2.2" fill="rgb(255,137,71)"/><rect x="342.5" y="208.7" width="2.2" height="2.2" fill="rgb(255,79,40)"/><rect x="343.3" y="209.5" width="2.2" height="2.2" fill="rgb(25,206,227)"/><rect x="340.5" y="209.5" width="2.2" height="2.2" fill="rgb(255,79,40)"/><rect x="339.3" y="211.5" width="2.2" height="2.2" fill="rgb(66,94,250)"/><rect x="339.1" y="213.1" width="2.2" height="2.2" fill="rgb(66,94,250)"/><rect x="339.7" y="214.7" width="2.2" height="2.2" fill="rgb(25,206,227)"/><rect x="338.5" y="212.3" width="2.2" height="2.2" fill="rgb(66,94,250)"/><rect x="366.9" y="220.9" width="2.2" height="2.2" fill="rgb(153,252,166)"/><rect x="364.9" y="230.9" width="2.2" height="2.2" fill="rgb(255,79,40)"/><rect x="362.9" y="232.9" width="2.2" height="2.2" fill="rgb(255,175,94)"/><rect x="365.9" y="233.9" width="2.2" height="2.2" fill="rgb(255,137,71)"/><rect x="361.9" y="235.9" width="2.2" height="2.2" fill="rgb(255,175,94)"/><rect x="363.9" y="236.9" width="2.2" height="2.2" fill="rgb(25,206,227)"/><rect x="364.9" y="238.9" width="2.2" height="2.2" fill="rgb(153,252,166)"/><rect x="367.4" y="241.9" width="2.2" height="2.2" fill="rgb(25,206,227)"/><rect x="349.4" y="208.9" width="2.2" height="2.2" fill="rgb(255,79,40)"/><rect x="357.9" y="231.9" width="2.2" height="2.2" fill="rgb(25,206,227)"/><rect x="359.9" y="233.4" width="2.2" height="2.2" fill="rgb(255,175,94)"/><rect x="820.3" y="212.6" width="2.2" height="2.2" fill="rgb(255,137,71)"/><rect x="858.1" y="218.1" width="2.2" height="2.2" fill="rgb(255,137,71)"/><rect x="825.7" y="225.0" width="2.2" height="2.2" fill="rgb(255,175,94)"/><rect x="808.4" y="212.8" width="2.2" height="2.2" fill="rgb(255,137,71)"/><rect x="833.4" y="225.5" width="2.2" height="2.2" fill="rgb(255,175,94)"/><rect x="837.8" y="220.8" width="2.2" height="2.2" fill="rgb(255,137,71)"/><rect x="853.6" y="221.8" width="2.2" height="2.2" fill="rgb(255,175,94)"/><rect x="831.9" y="224.4" width="2.2" height="2.2" fill="rgb(255,137,71)"/><rect x="831.6" y="218.1" width="2.2" height="2.2" fill="rgb(255,137,71)"/><rect x="844.7" y="217.6" width="2.2" height="2.2" fill="rgb(255,137,71)"/><rect x="821.8" y="223.9" width="2.2" height="2.2" fill="rgb(255,175,94)"/><rect x="822.3" y="216.5" width="2.2" height="2.2" fill="rgb(255,137,71)"/><rect x="810.9" y="225.1" width="2.2" height="2.2" fill="rgb(255,137,71)"/><rect x="804.9" y="222.4" width="2.2" height="2.2" fill="rgb(255,137,71)"/><rect x="804.4" y="218.5" width="2.0" height="2.0" fill="rgb(255,79,40)"/><rect x="806.2" y="213.6" width="2.0" height="2.0" fill="rgb(255,79,40)"/><rect x="807.6" y="211.7" width="2.0" height="2.0" fill="rgb(255,79,40)"/><rect x="810.7" y="213.3" width="2.0" height="2.0" fill="rgb(255,79,40)"/><rect x="813.1" y="211.9" width="2.0" height="2.0" fill="rgb(255,79,40)"/><rect x="813.0" y="213.1" width="2.0" height="2.0" fill="rgb(255,79,40)"/><rect x="819.0" y="212.0" width="2.0" height="2.0" fill="rgb(255,79,40)"/><rect x="833.8" y="211.9" width="2.0" height="2.0" fill="rgb(255,79,40)"/><rect x="828.6" y="212.3" width="2.0" height="2.0" fill="rgb(255,79,40)"/><rect x="826.4" y="212.1" width="2.0" height="2.0" fill="rgb(255,79,40)"/><rect x="822.1" y="212.8" width="2.0" height="2.0" fill="rgb(255,79,40)"/><rect x="820.8" y="211.2" width="2.0" height="2.0" fill="rgb(255,79,40)"/><rect x="824.1" y="212.9" width="2.0" height="2.0" fill="rgb(255,79,40)"/><rect x="823.3" y="211.1" width="2.0" height="2.0" fill="rgb(255,79,40)"/><rect x="842.1" y="211.2" width="2.0" height="2.0" fill="rgb(255,79,40)"/><rect x="835.7" y="212.9" width="2.0" height="2.0" fill="rgb(255,79,40)"/><rect x="840.7" y="213.1" width="2.0" height="2.0" fill="rgb(255,79,40)"/><rect x="848.8" y="211.3" width="2.0" height="2.0" fill="rgb(255,79,40)"/><rect x="835.8" y="211.5" width="2.0" height="2.0" fill="rgb(255,79,40)"/><rect x="834.7" y="211.2" width="2.0" height="2.0" fill="rgb(255,79,40)"/><rect x="843.6" y="212.7" width="2.0" height="2.0" fill="rgb(255,79,40)"/><rect x="853.3" y="212.5" width="2.0" height="2.0" fill="rgb(255,79,40)"/><rect x="852.7" y="211.3" width="2.0" height="2.0" fill="rgb(255,79,40)"/><rect x="853.3" y="211.4" width="2.0" height="2.0" fill="rgb(255,79,40)"/><rect x="854.9" y="213.4" width="2.0" height="2.0" fill="rgb(255,79,40)"/><rect x="850.8" y="211.7" width="2.0" height="2.0" fill="rgb(255,79,40)"/><rect x="859.9" y="218.3" width="2.0" height="2.0" fill="rgb(255,79,40)"/><rect x="861.0" y="220.6" width="2.0" height="2.0" fill="rgb(255,79,40)"/><rect x="860.5" y="214.2" width="2.0" height="2.0" fill="rgb(255,79,40)"/><rect x="860.2" y="216.6" width="2.0" height="2.0" fill="rgb(255,79,40)"/><rect x="861.1" y="217.8" width="2.0" height="2.0" fill="rgb(255,79,40)"/><rect x="856.1" y="223.4" width="2.0" height="2.0" fill="rgb(255,79,40)"/><rect x="858.4" y="223.6" width="2.0" height="2.0" fill="rgb(255,79,40)"/><rect x="857.1" y="224.6" width="2.0" height="2.0" fill="rgb(255,79,40)"/><rect x="850.2" y="224.5" width="2.0" height="2.0" fill="rgb(255,79,40)"/><rect x="848.9" y="225.3" width="2.0" height="2.0" fill="rgb(255,79,40)"/><rect x="853.5" y="224.7" width="2.0" height="2.0" fill="rgb(255,79,40)"/><rect x="842.1" y="224.4" width="2.0" height="2.0" fill="rgb(255,79,40)"/><rect x="839.2" y="224.3" width="2.0" height="2.0" fill="rgb(255,79,40)"/><rect x="846.1" y="225.1" width="2.0" height="2.0" fill="rgb(255,79,40)"/><rect x="841.2" y="225.4" width="2.0" height="2.0" fill="rgb(255,79,40)"/><rect x="846.3" y="224.7" width="2.0" height="2.0" fill="rgb(255,79,40)"/><rect x="834.9" y="226.6" width="2.0" height="2.0" fill="rgb(255,79,40)"/><rect x="826.2" y="225.2" width="2.0" height="2.0" fill="rgb(255,79,40)"/><rect x="820.1" y="225.7" width="2.0" height="2.0" fill="rgb(255,79,40)"/><rect x="833.7" y="226.1" width="2.0" height="2.0" fill="rgb(255,79,40)"/><rect x="827.1" y="226.3" width="2.0" height="2.0" fill="rgb(255,79,40)"/><rect x="819.4" y="224.9" width="2.0" height="2.0" fill="rgb(255,79,40)"/><rect x="828.7" y="226.3" width="2.0" height="2.0" fill="rgb(255,79,40)"/><rect x="831.8" y="226.3" width="2.0" height="2.0" fill="rgb(255,79,40)"/><rect x="813.7" y="227.5" width="2.0" height="2.0" fill="rgb(255,79,40)"/><rect x="817.0" y="225.5" width="2.0" height="2.0" fill="rgb(255,79,40)"/><rect x="817.7" y="225.7" width="2.0" height="2.0" fill="rgb(255,79,40)"/><rect x="810.4" y="225.5" width="2.0" height="2.0" fill="rgb(255,79,40)"/><rect x="808.9" y="226.4" width="2.0" height="2.0" fill="rgb(255,79,40)"/><rect x="805.5" y="224.8" width="2.0" height="2.0" fill="rgb(255,79,40)"/><rect x="807.1" y="223.5" width="2.0" height="2.0" fill="rgb(255,79,40)"/><rect x="803.3" y="222.0" width="2.0" height="2.0" fill="rgb(255,79,40)"/><rect x="805.3" y="219.5" width="2.0" height="2.0" fill="rgb(255,79,40)"/><rect x="804.9" y="228.6" width="2.2" height="2.2" fill="rgb(128,255,180)"/><rect x="805.6" y="228.2" width="2.2" height="2.2" fill="rgb(153,252,166)"/><rect x="806.4" y="226.7" width="2.2" height="2.2" fill="rgb(255,175,94)"/><rect x="807.1" y="229.3" width="2.2" height="2.2" fill="rgb(153,252,166)"/><rect x="807.9" y="225.0" width="2.2" height="2.2" fill="rgb(128,255,180)"/><rect x="808.6" y="228.2" width="2.2" height="2.2" fill="rgb(255,175,94)"/><rect x="809.4" y="226.8" width="2.2" height="2.2" fill="rgb(128,255,180)"/><rect x="810.1" y="225.3" width="2.2" height="2.2" fill="rgb(128,255,180)"/><rect x="810.9" y="228.8" width="2.2" height="2.2" fill="rgb(128,255,180)"/><rect x="811.6" y="229.3" width="2.2" height="2.2" fill="rgb(255,137,71)"/><rect x="812.4" y="226.0" width="2.2" height="2.2" fill="rgb(255,175,94)"/><rect x="813.1" y="225.1" width="2.2" height="2.2" fill="rgb(153,252,166)"/><rect x="813.9" y="225.6" width="2.2" height="2.2" fill="rgb(128,255,180)"/><rect x="814.6" y="224.9" width="2.2" height="2.2" fill="rgb(255,175,94)"/><rect x="815.4" y="229.2" width="2.2" height="2.2" fill="rgb(255,137,71)"/><rect x="816.1" y="226.4" width="2.2" height="2.2" fill="rgb(128,255,180)"/><rect x="816.9" y="229.2" width="2.2" height="2.2" fill="rgb(255,175,94)"/><rect x="817.6" y="225.9" width="2.2" height="2.2" fill="rgb(153,252,166)"/><rect x="818.4" y="224.9" width="2.2" height="2.2" fill="rgb(128,255,180)"/><rect x="819.1" y="225.3" width="2.2" height="2.2" fill="rgb(255,175,94)"/><rect x="819.9" y="227.2" width="2.2" height="2.2" fill="rgb(153,252,166)"/><rect x="820.6" y="226.0" width="2.2" height="2.2" fill="rgb(128,255,180)"/><rect x="821.4" y="225.3" width="2.2" height="2.2" fill="rgb(128,255,180)"/><rect x="822.1" y="225.5" width="2.2" height="2.2" fill="rgb(255,137,71)"/><rect x="822.9" y="225.1" width="2.2" height="2.2" fill="rgb(128,255,180)"/><rect x="823.6" y="226.2" width="2.2" height="2.2" fill="rgb(128,255,180)"/><rect x="824.4" y="225.9" width="2.2" height="2.2" fill="rgb(255,137,71)"/><rect x="825.1" y="229.2" width="2.2" height="2.2" fill="rgb(153,252,166)"/><rect x="825.9" y="227.9" width="2.2" height="2.2" fill="rgb(128,255,180)"/><rect x="826.6" y="228.4" width="2.2" height="2.2" fill="rgb(255,137,71)"/><rect x="827.4" y="226.7" width="2.2" height="2.2" fill="rgb(255,175,94)"/><rect x="828.1" y="228.1" width="2.2" height="2.2" fill="rgb(128,255,180)"/><rect x="828.9" y="225.6" width="2.2" height="2.2" fill="rgb(128,255,180)"/><rect x="829.6" y="227.7" width="2.2" height="2.2" fill="rgb(153,252,166)"/><rect x="830.4" y="225.1" width="2.2" height="2.2" fill="rgb(128,255,180)"/><rect x="831.1" y="228.9" width="2.2" height="2.2" fill="rgb(128,255,180)"/><rect x="831.9" y="226.8" width="2.2" height="2.2" fill="rgb(128,255,180)"/><rect x="832.6" y="228.6" width="2.2" height="2.2" fill="rgb(153,252,166)"/><rect x="833.4" y="229.0" width="2.2" height="2.2" fill="rgb(255,137,71)"/><rect x="834.1" y="227.5" width="2.2" height="2.2" fill="rgb(128,255,180)"/><rect x="834.9" y="228.6" width="2.2" height="2.2" fill="rgb(255,137,71)"/><rect x="835.6" y="228.5" width="2.2" height="2.2" fill="rgb(128,255,180)"/><rect x="836.4" y="228.0" width="2.2" height="2.2" fill="rgb(128,255,180)"/><rect x="837.1" y="227.8" width="2.2" height="2.2" fill="rgb(128,255,180)"/><rect x="837.9" y="225.0" width="2.2" height="2.2" fill="rgb(153,252,166)"/><rect x="838.6" y="227.8" width="2.2" height="2.2" fill="rgb(128,255,180)"/><rect x="839.4" y="226.6" width="2.2" height="2.2" fill="rgb(128,255,180)"/><rect x="840.1" y="227.4" width="2.2" height="2.2" fill="rgb(128,255,180)"/><rect x="840.9" y="225.0" width="2.2" height="2.2" fill="rgb(255,137,71)"/><rect x="841.6" y="228.0" width="2.2" height="2.2" fill="rgb(128,255,180)"/><rect x="842.4" y="226.1" width="2.2" height="2.2" fill="rgb(128,255,180)"/><rect x="843.1" y="228.5" width="2.2" height="2.2" fill="rgb(128,255,180)"/><rect x="843.9" y="229.1" width="2.2" height="2.2" fill="rgb(255,137,71)"/><rect x="844.6" y="225.3" width="2.2" height="2.2" fill="rgb(255,137,71)"/><rect x="845.4" y="225.2" width="2.2" height="2.2" fill="rgb(128,255,180)"/><rect x="846.1" y="227.0" width="2.2" height="2.2" fill="rgb(128,255,180)"/><rect x="846.9" y="228.7" width="2.2" height="2.2" fill="rgb(153,252,166)"/><rect x="847.6" y="228.2" width="2.2" height="2.2" fill="rgb(153,252,166)"/><rect x="848.4" y="225.9" width="2.2" height="2.2" fill="rgb(128,255,180)"/><rect x="849.1" y="229.3" width="2.2" height="2.2" fill="rgb(128,255,180)"/><rect x="806.9" y="211.2" width="2.2" height="2.2" fill="rgb(25,206,227)"/><rect x="810.2" y="210.6" width="2.2" height="2.2" fill="rgb(255,137,71)"/><rect x="813.5" y="211.1" width="2.2" height="2.2" fill="rgb(153,252,166)"/><rect x="816.8" y="210.8" width="2.2" height="2.2" fill="rgb(128,255,180)"/><rect x="820.1" y="210.0" width="2.2" height="2.2" fill="rgb(128,255,180)"/><rect x="823.4" y="210.4" width="2.2" height="2.2" fill="rgb(255,137,71)"/><rect x="826.7" y="210.8" width="2.2" height="2.2" fill="rgb(128,255,180)"/><rect x="830.0" y="209.9" width="2.2" height="2.2" fill="rgb(25,206,227)"/><rect x="833.3" y="210.6" width="2.2" height="2.2" fill="rgb(25,206,227)"/><rect x="836.6" y="210.9" width="2.2" height="2.2" fill="rgb(66,94,250)"/><rect x="839.9" y="210.3" width="2.2" height="2.2" fill="rgb(153,252,166)"/><rect x="843.2" y="210.3" width="2.2" height="2.2" fill="rgb(66,94,250)"/><rect x="846.5" y="210.6" width="2.2" height="2.2" fill="rgb(25,206,227)"/><rect x="849.8" y="211.4" width="2.2" height="2.2" fill="rgb(153,252,166)"/><rect x="853.1" y="210.2" width="2.2" height="2.2" fill="rgb(25,206,227)"/><rect x="856.4" y="211.3" width="2.2" height="2.2" fill="rgb(25,206,227)"/><rect x="811.9" y="207.9" width="2.2" height="2.2" fill="rgb(25,206,227)"/><rect x="830.9" y="206.4" width="2.2" height="2.2" fill="rgb(255,137,71)"/><rect x="841.9" y="206.9" width="2.2" height="2.2" fill="rgb(255,79,40)"/><rect x="822.4" y="208.4" width="2.2" height="2.2" fill="rgb(255,79,40)"/><rect x="832.9" y="208.4" width="2.2" height="2.2" fill="rgb(66,94,250)"/><rect x="844.9" y="208.9" width="2.2" height="2.2" fill="rgb(25,206,227)"/><rect x="853.9" y="190.9" width="2.2" height="2.2" fill="rgb(25,206,227)"/><rect x="859.9" y="188.9" width="2.2" height="2.2" fill="rgb(153,252,166)"/><rect x="832.9" y="182.4" width="2.2" height="2.2" fill="rgb(153,252,166)"/><rect x="822.9" y="235.9" width="2.2" height="2.2" fill="rgb(25,206,227)"/><rect x="825.9" y="238.9" width="2.2" height="2.2" fill="rgb(153,252,166)"/><rect x="844.4" y="232.9" width="2.2" height="2.2" fill="rgb(25,206,227)"/><rect x="853.9" y="234.9" width="2.2" height="2.2" fill="rgb(255,175,94)"/><rect x="858.9" y="242.9" width="2.2" height="2.2" fill="rgb(25,206,227)"/><rect x="806.9" y="231.9" width="2.2" height="2.2" fill="rgb(255,175,94)"/><rect x="813.9" y="233.4" width="2.2" height="2.2" fill="rgb(255,137,71)"/><rect x="818.9" y="230.9" width="2.2" height="2.2" fill="rgb(255,79,40)"/><rect x="856.4" y="228.9" width="2.2" height="2.2" fill="rgb(255,79,40)"/><rect x="803.4" y="218.9" width="2.2" height="2.2" fill="rgb(25,206,227)"/><rect x="803.9" y="225.9" width="2.2" height="2.2" fill="rgb(255,137,71)"/><rect x="804.9" y="229.9" width="2.2" height="2.2" fill="rgb(153,252,166)"/><rect x="521.2" y="332.2" width="2" height="2" fill="rgb(128,0,255)"/><rect x="245.4" y="191.6" width="2" height="2" fill="rgb(15,196,231)"/><rect x="322.0" y="182.0" width="2" height="2" fill="rgb(153,252,166)"/><rect x="245.0" y="58.0" width="2" height="2" fill="rgb(25,206,227)"/><rect x="324.0" y="77.0" width="2" height="2" fill="rgb(153,252,166)"/><rect x="521.0" y="89.0" width="2" height="2" fill="rgb(102,40,254)"/><rect x="564.3" y="104.2" width="2" height="2" fill="rgb(255,180,98)"/><rect x="821.0" y="331.0" width="2" height="2" fill="rgb(102,40,254)"/><rect x="805.0" y="393.0" width="2" height="2" fill="rgb(255,180,98)"/><rect x="854.0" y="191.0" width="2" height="2" fill="rgb(0,180,236)"/><rect x="860.0" y="189.0" width="2" height="2" fill="rgb(153,252,166)"/>
<g fill="none" stroke="#000">
<path d="M242,54 H862 V653 H752" stroke-width="2"/>
<path d="M242,53 V157" stroke-width="2"/>
<path d="M241,157.5 H862" stroke-width="3"/>
<path d="M752.5,53 V652" stroke-width="3"/>
<path d="M241.5,157 V653.5 H752" stroke-width="1"/>
</g>
<rect x="342.4" y="52.9" width="2.2" height="2.2" fill="rgb(255,79,40)"/><rect x="344.4" y="52.9" width="2.2" height="2.2" fill="rgb(153,252,166)"/><rect x="346.4" y="53.4" width="2.2" height="2.2" fill="rgb(128,255,180)"/><rect x="348.4" y="52.9" width="2.2" height="2.2" fill="rgb(255,175,94)"/><rect x="349.9" y="52.9" width="2.2" height="2.2" fill="rgb(255,175,94)"/><rect x="351.9" y="53.4" width="2.2" height="2.2" fill="rgb(255,79,40)"/><rect x="353.4" y="52.9" width="2.2" height="2.2" fill="rgb(25,206,227)"/><rect x="355.4" y="52.9" width="2.2" height="2.2" fill="rgb(255,137,71)"/><rect x="356.9" y="53.4" width="2.2" height="2.2" fill="rgb(255,175,94)"/><rect x="367.3" y="52.9" width="2.2" height="2.2" fill="rgb(25,206,227)"/><rect x="343.9" y="55.9" width="2.2" height="2.2" fill="rgb(153,252,166)"/><rect x="350.9" y="56.9" width="2.2" height="2.2" fill="rgb(255,175,94)"/><rect x="354.9" y="57.9" width="2.2" height="2.2" fill="rgb(153,252,166)"/><rect x="345.9" y="58.9" width="2.2" height="2.2" fill="rgb(128,255,180)"/>
<text x="299.86" y="46.2" font-size="24.26" fill="#000" textLength="86.94" lengthAdjust="spacingAndGlyphs">SAETTA</text><text x="394.10" y="46.2" font-size="24.26" fill="#000" textLength="107.54" lengthAdjust="spacingAndGlyphs">Lightning</text><text x="508.96" y="46.2" font-size="24.26" fill="#000" textLength="98.70" lengthAdjust="spacingAndGlyphs">Mapping</text><text x="614.97" y="46.2" font-size="24.26" fill="#000" textLength="61.95" lengthAdjust="spacingAndGlyphs">Array</text><text x="684.23" y="46.2" font-size="24.26" fill="#000" textLength="8.30" lengthAdjust="spacingAndGlyphs">-</text><text x="699.84" y="46.2" font-size="24.26" fill="#000" textLength="103.30" lengthAdjust="spacingAndGlyphs">17/06/24</text>
<text x="219.3" y="52" font-size="10.44" text-anchor="start" fill="#000" textLength="12.60" lengthAdjust="spacingAndGlyphs" >15</text>
<text x="219.3" y="87.2" font-size="10.44" text-anchor="start" fill="#000" textLength="12.60" lengthAdjust="spacingAndGlyphs" >10</text>
<text x="220.0" y="122.4" font-size="10.44" text-anchor="start" fill="#000"  >5</text>
<text x="220.0" y="156.6" font-size="10.44" text-anchor="start" fill="#000"  >0</text>
<text x="186.0" y="104.8" font-size="12.03" text-anchor="start" fill="#000" textLength="18.58" lengthAdjust="spacingAndGlyphs" >Km</text>
<text x="772.7" y="83.6" font-size="10.55" text-anchor="middle" fill="#000"  >6</text>
<text x="784.3" y="83.6" font-size="10.55" text-anchor="middle" fill="#000"  >:</text>
<text x="815.5" y="83.6" font-size="10.55" text-anchor="middle" fill="#000" textLength="25.45" lengthAdjust="spacingAndGlyphs" >4345</text>
<text x="772.7" y="93.7" font-size="10.55" text-anchor="middle" fill="#ff0000"  >7</text>
<text x="784.3" y="93.7" font-size="10.55" text-anchor="middle" fill="#ff0000"  >:</text>
<text x="815.5" y="93.7" font-size="10.55" text-anchor="middle" fill="#ff0000" textLength="25.45" lengthAdjust="spacingAndGlyphs" >2695</text>
<text x="772.7" y="104.4" font-size="10.55" text-anchor="middle" fill="#000"  >8</text>
<text x="784.3" y="104.4" font-size="10.55" text-anchor="middle" fill="#000"  >:</text>
<text x="815.5" y="104.4" font-size="10.55" text-anchor="middle" fill="#000" textLength="25.45" lengthAdjust="spacingAndGlyphs" >1344</text>
<text x="772.7" y="114.5" font-size="10.55" text-anchor="middle" fill="#000"  >9</text>
<text x="784.3" y="114.5" font-size="10.55" text-anchor="middle" fill="#000"  >:</text>
<text x="815.5" y="114.5" font-size="10.55" text-anchor="middle" fill="#000" textLength="19.09" lengthAdjust="spacingAndGlyphs" >540</text>
<text x="772.7" y="125.4" font-size="10.55" text-anchor="middle" fill="#000" textLength="12.72" lengthAdjust="spacingAndGlyphs" >10</text>
<text x="787.5" y="125.4" font-size="10.55" text-anchor="middle" fill="#000"  >:</text>
<text x="819" y="125.4" font-size="10.55" text-anchor="middle" fill="#000"  >1</text>
<text x="772.7" y="135.2" font-size="10.55" text-anchor="middle" fill="#000" textLength="12.72" lengthAdjust="spacingAndGlyphs" >11</text>
<text x="787.5" y="135.2" font-size="10.55" text-anchor="middle" fill="#000"  >:</text>
<text x="819" y="135.2" font-size="10.55" text-anchor="middle" fill="#000"  >0</text>
<text x="772.7" y="145.5" font-size="10.55" text-anchor="middle" fill="#000" textLength="12.72" lengthAdjust="spacingAndGlyphs" >12</text>
<text x="787.5" y="145.5" font-size="10.55" text-anchor="middle" fill="#000"  >:</text>
<text x="819" y="145.5" font-size="10.55" text-anchor="middle" fill="#000"  >0</text>
<text x="234.5" y="655.0" font-size="10.44" text-anchor="end" fill="#000" textLength="24.95" lengthAdjust="spacingAndGlyphs" >40°N</text>
<text x="234.5" y="607.2" font-size="10.44" text-anchor="end" fill="#000" textLength="34.40" lengthAdjust="spacingAndGlyphs" >40.5°N</text>
<text x="234.5" y="559.1" font-size="10.44" text-anchor="end" fill="#000" textLength="24.95" lengthAdjust="spacingAndGlyphs" >41°N</text>
<text x="234.5" y="510.6" font-size="10.44" text-anchor="end" fill="#000" textLength="34.40" lengthAdjust="spacingAndGlyphs" >41.5°N</text>
<text x="234.5" y="461.7" font-size="10.44" text-anchor="end" fill="#000" textLength="24.95" lengthAdjust="spacingAndGlyphs" >42°N</text>
<text x="234.5" y="412.5" font-size="10.44" text-anchor="end" fill="#000" textLength="34.40" lengthAdjust="spacingAndGlyphs" >42.5°N</text>
<text x="234.5" y="362.8" font-size="10.44" text-anchor="end" fill="#000" textLength="24.95" lengthAdjust="spacingAndGlyphs" >43°N</text>
<text x="234.5" y="312.7" font-size="10.44" text-anchor="end" fill="#000" textLength="34.40" lengthAdjust="spacingAndGlyphs" >43.5°N</text>
<text x="234.5" y="262.3" font-size="10.44" text-anchor="end" fill="#000" textLength="24.95" lengthAdjust="spacingAndGlyphs" >44°N</text>
<text x="234.5" y="211.3" font-size="10.44" text-anchor="end" fill="#000" textLength="34.40" lengthAdjust="spacingAndGlyphs" >44.5°N</text>
<text x="241.6" y="666.8" font-size="10.44" text-anchor="middle" fill="#000" textLength="17.50" lengthAdjust="spacingAndGlyphs" >5°E</text>
<text x="278.1" y="666.8" font-size="10.44" text-anchor="middle" fill="#000" textLength="26.95" lengthAdjust="spacingAndGlyphs" >5.5°E</text>
<text x="314.6" y="666.8" font-size="10.44" text-anchor="middle" fill="#000" textLength="17.50" lengthAdjust="spacingAndGlyphs" >6°E</text>
<text x="351.1" y="666.8" font-size="10.44" text-anchor="middle" fill="#000" textLength="26.95" lengthAdjust="spacingAndGlyphs" >6.5°E</text>
<text x="387.6" y="666.8" font-size="10.44" text-anchor="middle" fill="#000" textLength="17.50" lengthAdjust="spacingAndGlyphs" >7°E</text>
<text x="424.1" y="666.8" font-size="10.44" text-anchor="middle" fill="#000" textLength="26.95" lengthAdjust="spacingAndGlyphs" >7.5°E</text>
<text x="460.6" y="666.8" font-size="10.44" text-anchor="middle" fill="#000" textLength="17.50" lengthAdjust="spacingAndGlyphs" >8°E</text>
<text x="497.1" y="666.8" font-size="10.44" text-anchor="middle" fill="#000" textLength="26.95" lengthAdjust="spacingAndGlyphs" >8.5°E</text>
<text x="533.6" y="666.8" font-size="10.44" text-anchor="middle" fill="#000" textLength="17.50" lengthAdjust="spacingAndGlyphs" >9°E</text>
<text x="570.1" y="666.8" font-size="10.44" text-anchor="middle" fill="#000" textLength="26.95" lengthAdjust="spacingAndGlyphs" >9.5°E</text>
<text x="606.6" y="666.8" font-size="10.44" text-anchor="middle" fill="#000" textLength="23.80" lengthAdjust="spacingAndGlyphs" >10°E</text>
<text x="643.1" y="666.8" font-size="10.44" text-anchor="middle" fill="#000" textLength="33.25" lengthAdjust="spacingAndGlyphs" >10.5°E</text>
<text x="679.6" y="666.8" font-size="10.44" text-anchor="middle" fill="#000" textLength="23.80" lengthAdjust="spacingAndGlyphs" >11°E</text>
<text x="716.1" y="666.8" font-size="10.44" text-anchor="middle" fill="#000" textLength="33.25" lengthAdjust="spacingAndGlyphs" >11.5°E</text>
<text x="752.6" y="666.7" font-size="10.44" text-anchor="start" fill="#000"  >0</text>
<text x="788.5" y="666.7" font-size="10.44" text-anchor="start" fill="#000"  >5</text>
<text x="824.2" y="666.7" font-size="10.44" text-anchor="start" fill="#000" textLength="12.60" lengthAdjust="spacingAndGlyphs" >10</text>
<text x="861.6" y="666.7" font-size="10.44" text-anchor="start" fill="#000" textLength="12.60" lengthAdjust="spacingAndGlyphs" >15</text>
<text x="816.5" y="675.2" font-size="12.03" text-anchor="middle" fill="#000" textLength="18.58" lengthAdjust="spacingAndGlyphs" >Km</text>
<rect x="158.5" y="690.5" width="787" height="38" fill="url(#cb)" stroke="#000" stroke-width="1"/>
<text x="158.5" y="742.7" font-size="10.44" text-anchor="middle" fill="#000"  >0</text>
<text x="315.9" y="742.7" font-size="10.44" text-anchor="middle" fill="#000"  >2</text>
<text x="473.3" y="742.7" font-size="10.44" text-anchor="middle" fill="#000"  >4</text>
<text x="630.7" y="742.7" font-size="10.44" text-anchor="middle" fill="#000"  >6</text>
<text x="788.1" y="742.7" font-size="10.44" text-anchor="middle" fill="#000"  >8</text>
<text x="945.5" y="742.7" font-size="10.44" text-anchor="middle" fill="#000" textLength="12.60" lengthAdjust="spacingAndGlyphs" >10</text>
<path d="M158.5,728.5 V732 M315.9,728.5 V732 M473.3,728.5 V732 M630.7,728.5 V732 M788.1,728.5 V732 M945.5,728.5 V732" stroke="#000" stroke-width="1"/>
<text x="432.29" y="718.9" font-size="19.83" fill="#000" textLength="43.75" lengthAdjust="spacingAndGlyphs">from</text><text x="482.02" y="718.9" font-size="19.83" fill="#000" textLength="84.44" lengthAdjust="spacingAndGlyphs">17:30:00</text><text x="572.43" y="718.9" font-size="19.83" fill="#000" textLength="18.87" lengthAdjust="spacingAndGlyphs">to</text><text x="597.28" y="718.9" font-size="19.83" fill="#000" textLength="84.44" lengthAdjust="spacingAndGlyphs">17:39:59</text>
</svg></body></html>
